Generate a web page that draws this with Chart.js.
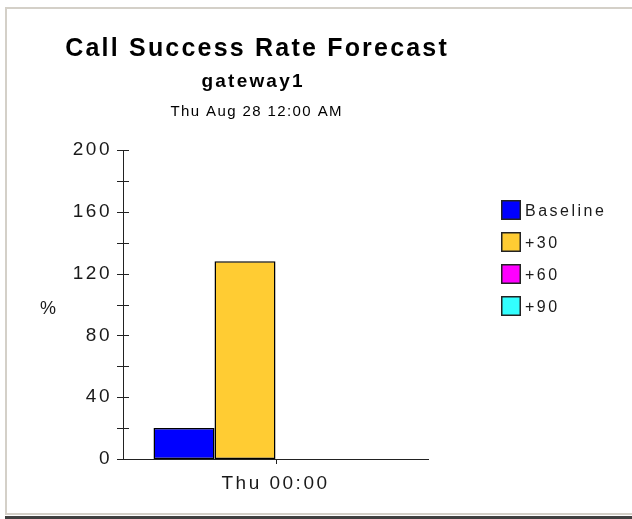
<!DOCTYPE html>
<html>
<head>
<meta charset="utf-8">
<title>Call Success Rate Forecast</title>
<script src="https://cdn.jsdelivr.net/npm/chart.js@4/dist/chart.umd.min.js"></script>
<style>
  html, body { margin: 0; padding: 0; background: #ffffff; width: 632px; height: 519px; overflow: hidden; }
  .frame { position: absolute; }
  #top-edge { left: 5px; top: 7px; width: 627px; height: 2px; background: #d4d0c8; }
  #left-edge { left: 5px; top: 7px; width: 2px; height: 507px; background: #d4d0c8; }
  #bottom-light { left: 5px; top: 513px; width: 627px; height: 2px; background: #d4d0c8; }
  #bottom-dark { left: 5px; top: 516px; width: 627px; height: 3px; background: #404040; }
  #chart { position: absolute; left: 0; top: 0; }
</style>
</head>
<body>
<div class="frame" id="top-edge"></div>
<div class="frame" id="left-edge"></div>
<div class="frame" id="bottom-light"></div>
<div class="frame" id="bottom-dark"></div>
<canvas id="chart" width="632" height="519"></canvas>
<script>
// ---- data ----
const categories = ['Thu 00:00'];
const seriesNames = ['Baseline', '+30', '+60', '+90'];
const baselineValues = [20];
const plus30Values = [128];
const plus60Values = [0];
const plus90Values = [0];
const yLabelValues = [0, 40, 80, 120, 160, 200];

const chartTitle = 'Call Success Rate Forecast';
const chartSubtitle = 'gateway1';
const chartDate = 'Thu Aug 28 12:00 AM';
const yAxisTitle = '%';

// ---- styles ----
const seriesColors = ['#0000ff', '#ffcc33', '#ff00ff', '#33ffff'];
const inkColor = '#1a1a1a';
const fontFamily = '"Liberation Sans", Arial, Helvetica, sans-serif';
const tickSpacing = 2.5;

const seriesData = [baselineValues, plus30Values, plus60Values, plus90Values];

const datasets = seriesNames.map((name, i) => ({
  label: name,
  data: seriesData[i],
  backgroundColor: seriesColors[i],
  borderColor: '#000000',
  borderWidth: 1.5,
  borderSkipped: false,
  categoryPercentage: 0.8,
  barPercentage: 1.0
}));

function drawSpacedText(ctx, text, x, y, font, spacing, align, color) {
  ctx.save();
  ctx.font = font;
  ctx.letterSpacing = spacing + 'px';
  ctx.fillStyle = color;
  ctx.textBaseline = 'alphabetic';
  const w = ctx.measureText(text).width - spacing;
  let sx = x;
  if (align === 'center') sx = x - w / 2;
  else if (align === 'right') sx = x - w;
  ctx.textAlign = 'left';
  ctx.fillText(text, sx, y);
  ctx.restore();
}

const decorations = {
  id: 'decorations',
  beforeLayout(chart) {
    chart.ctx.letterSpacing = tickSpacing + 'px';
  },
  beforeDraw(chart) {
    chart.ctx.letterSpacing = tickSpacing + 'px';
  },
  afterDraw(chart) {
    const { ctx, chartArea, scales } = chart;
    const xs = scales.x, ys = scales.y;
    ctx.save();
    ctx.strokeStyle = '#222222';
    ctx.lineWidth = 1;

    // tick marks crossing the value axis, every 20
    ys.ticks.forEach(t => {
      const py = Math.round(ys.getPixelForValue(t.value)) + 0.5;
      ctx.beginPath();
      ctx.moveTo(chartArea.left - 6, py);
      ctx.lineTo(chartArea.left + 6, py);
      ctx.stroke();
    });

    // category tick below the time axis
    categories.forEach((c, i) => {
      const px = Math.round(xs.getPixelForValue(i)) + 0.5;
      ctx.beginPath();
      ctx.moveTo(px, chartArea.bottom);
      ctx.lineTo(px, chartArea.bottom + 5);
      ctx.stroke();
    });
    ctx.restore();

    // header lines
    drawSpacedText(ctx, chartTitle, 256, 56, 'bold 25px ' + fontFamily, 2.2, 'center', '#000000');
    drawSpacedText(ctx, chartSubtitle, 252, 87, 'bold 19px ' + fontFamily, 2.2, 'center', '#000000');
    drawSpacedText(ctx, chartDate, 256, 116, '15px ' + fontFamily, 1.4, 'center', '#000000');

    // value axis title
    drawSpacedText(ctx, yAxisTitle, 48, 314, '18px ' + fontFamily, 0, 'center', inkColor);

    // legend
    chart.data.datasets.forEach((ds, i) => {
      const cy = 210 + i * 32;
      ctx.save();
      ctx.fillStyle = ds.backgroundColor;
      ctx.fillRect(501, cy - 10, 20, 20);
      ctx.strokeStyle = '#222222';
      ctx.lineWidth = 1.5;
      ctx.strokeRect(501.75, cy - 9.25, 18.5, 18.5);
      ctx.restore();
      drawSpacedText(ctx, ds.label, 525, cy + 6, '16px ' + fontFamily, 2.5, 'left', inkColor);
    });
  }
};

new Chart(document.getElementById('chart'), {
  type: 'bar',
  data: { labels: categories, datasets },
  options: {
    responsive: false,
    animation: false,
    events: [],
    layout: { padding: { left: 0, right: 204, top: 150, bottom: 0 } },
    plugins: {
      legend: { display: false },
      title: { display: false },
      tooltip: { enabled: false }
    },
    scales: {
      x: {
        grid: { display: false, drawTicks: false },
        border: { display: true, color: '#222222', width: 1 },
        ticks: {
          color: inkColor,
          font: { family: fontFamily, size: 19 },
          padding: 13,
          maxRotation: 0
        },
        afterFit(scale) { scale.height = 60; }
      },
      y: {
        min: 0,
        max: 200,
        grid: { display: false, drawTicks: false },
        border: { display: true, color: '#222222', width: 1 },
        ticks: {
          stepSize: 20,
          color: inkColor,
          font: { family: fontFamily, size: 19 },
          padding: 11,
          callback: v => (yLabelValues.includes(v) ? String(v) : '')
        },
        afterFit(scale) { scale.width = 123; }
      }
    }
  },
  plugins: [decorations]
});
</script>
</body>
</html>
